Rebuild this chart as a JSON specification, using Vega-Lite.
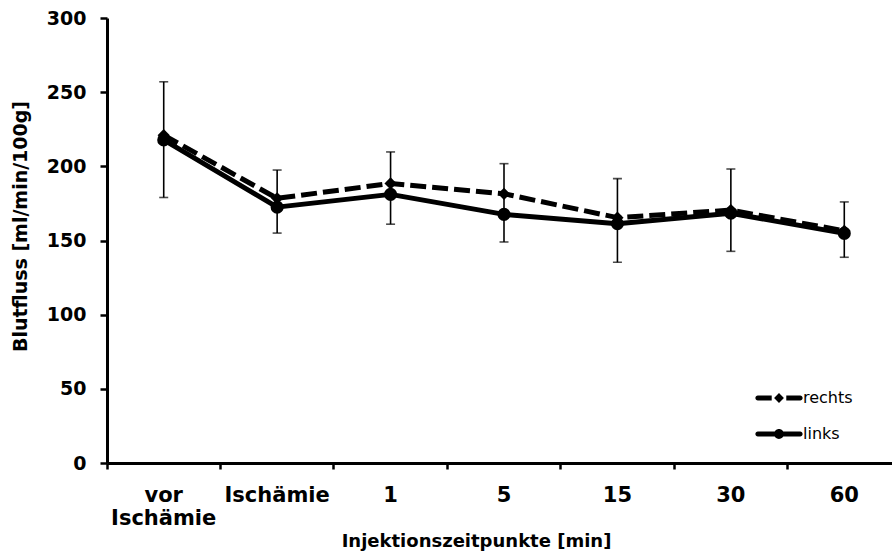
{
  "$schema": "https://vega.github.io/schema/vega-lite/v6.json",
  "autosize": {"type": "none"},
  "padding": {"left": 107, "top": 18, "right": 0, "bottom": 91},
  "width": 785,
  "height": 445,
  "background": "white",
  "datasets": {
    "mittelwerte": [
      {"zeit": "vor Ischämie", "seite": "rechts", "wert": 221.0},
      {"zeit": "Ischämie", "seite": "rechts", "wert": 178.4},
      {"zeit": "1", "seite": "rechts", "wert": 188.5},
      {"zeit": "5", "seite": "rechts", "wert": 181.5},
      {"zeit": "15", "seite": "rechts", "wert": 165.4},
      {"zeit": "30", "seite": "rechts", "wert": 170.5},
      {"zeit": "60", "seite": "rechts", "wert": 156.5},
      {"zeit": "vor Ischämie", "seite": "links", "wert": 217.8},
      {"zeit": "Ischämie", "seite": "links", "wert": 172.5},
      {"zeit": "1", "seite": "links", "wert": 181.1},
      {"zeit": "5", "seite": "links", "wert": 167.6},
      {"zeit": "15", "seite": "links", "wert": 161.3},
      {"zeit": "30", "seite": "links", "wert": 168.4},
      {"zeit": "60", "seite": "links", "wert": 154.8}
    ],
    "streuung": [
      {"zeit": "vor Ischämie", "unten": 179.0, "oben": 257.0},
      {"zeit": "Ischämie", "unten": 155.0, "oben": 197.5},
      {"zeit": "1", "unten": 161.0, "oben": 209.7},
      {"zeit": "5", "unten": 149.0, "oben": 201.8},
      {"zeit": "15", "unten": 135.3, "oben": 191.7},
      {"zeit": "30", "unten": 142.7, "oben": 198.2},
      {"zeit": "60", "unten": 138.7, "oben": 176.0}
    ]
  },
  "encoding": {
    "x": {
      "field": "zeit",
      "type": "nominal",
      "scale": {
        "type": "band",
        "domain": ["vor Ischämie", "Ischämie", "1", "5", "15", "30", "60"],
        "range": [0, 794],
        "paddingInner": 0,
        "paddingOuter": 0
      },
      "axis": {
        "title": "Injektionszeitpunkte [min]",
        "bandPosition": 0,
        "labelAngle": 0,
        "labelFontSize": 21,
        "labelLineHeight": 23,
        "labelPadding": 15,
        "labelExpr": "datum.label == 'vor Ischämie' ? ['vor', 'Ischämie'] : datum.label",
        "tickSize": 6,
        "titleFontSize": 18,
        "titleX": 369,
        "titleY": 78,
        "titleAnchor": "middle",
        "titleAlign": "center",
        "titleBaseline": "middle"
      }
    },
    "y": {
      "field": "wert",
      "type": "quantitative",
      "scale": {"domain": [0, 300]},
      "axis": {
        "title": "Blutfluss [ml/min/100g]",
        "values": [0, 50, 100, 150, 200, 250, 300],
        "tickSize": 7,
        "labelFontSize": 19,
        "labelPadding": 14,
        "titleFontSize": 19,
        "titleX": -87,
        "titleY": 208,
        "titleAngle": -90,
        "titleAlign": "center",
        "titleBaseline": "middle"
      }
    }
  },
  "layer": [
    {
      "data": {"name": "streuung"},
      "mark": {"type": "errorbar", "ticks": true, "thickness": 1.6, "size": 9, "color": "black"},
      "encoding": {
        "y": {"field": "unten", "type": "quantitative", "title": "Blutfluss [ml/min/100g]"},
        "y2": {"field": "oben"}
      }
    },
    {
      "data": {"name": "mittelwerte"},
      "transform": [{"filter": "datum.seite == 'rechts'"}],
      "mark": {"type": "line", "color": "black", "strokeWidth": 5, "strokeJoin": "round", "strokeDash": [16, 6]}
    },
    {
      "data": {"name": "mittelwerte"},
      "transform": [{"filter": "datum.seite == 'rechts'"}],
      "mark": {"type": "point", "shape": "diamond", "filled": true, "color": "black", "opacity": 1, "size": 150}
    },
    {
      "data": {"name": "mittelwerte"},
      "transform": [{"filter": "datum.seite == 'links'"}],
      "mark": {"type": "line", "color": "black", "strokeWidth": 5, "strokeJoin": "round"}
    },
    {
      "data": {"name": "mittelwerte"},
      "transform": [{"filter": "datum.seite == 'links'"}],
      "mark": {"type": "point", "shape": "circle", "filled": true, "color": "black", "opacity": 1, "size": 170}
    },
    {
      "description": "Legend key: line sample with its marker for each side; the marks themselves stay hidden",
      "data": {"name": "mittelwerte"},
      "mark": {"type": "point", "filled": true, "color": "black", "opacity": 0, "size": 552},
      "encoding": {
        "shape": {
          "field": "seite",
          "type": "nominal",
          "scale": {
            "domain": ["rechts", "links"],
            "range": [
              "M-1.8,-0.21H-0.62V0.21H-1.8A0.21,0.21 0 0 1 -1.8,-0.21ZM0.62,-0.21H1.8A0.21,0.21 0 0 1 1.8,0.21H0.62ZM0,-0.42L0.42,0L0,0.42L-0.42,0Z",
              "M-1.8,-0.21H1.8A0.21,0.21 0 0 1 1.8,0.21H-1.8A0.21,0.21 0 0 1 -1.8,-0.21ZM-0.42,0A0.42,0.42 0 1 1 0.42,0A0.42,0.42 0 1 1 -0.42,0Z"
            ]
          },
          "legend": {
            "title": null,
            "orient": "none",
            "legendX": 660,
            "legendY": 368,
            "symbolSize": 552,
            "symbolFillColor": "black",
            "symbolStrokeColor": "black",
            "symbolStrokeWidth": 0.5,
            "symbolOpacity": 1,
            "labelOffset": 12,
            "rowPadding": 16,
            "labelFont": "DejaVu Sans",
            "labelFontSize": 16,
            "labelFontWeight": "normal",
            "labelColor": "black"
          }
        }
      }
    }
  ],
  "config": {
    "view": {"stroke": null},
    "font": "DejaVu Sans",
    "axis": {
      "grid": false,
      "domainColor": "black",
      "domainWidth": 3,
      "tickColor": "black",
      "tickWidth": 2.5,
      "labelFont": "DejaVu Sans",
      "labelFontWeight": "bold",
      "labelColor": "black",
      "titleFont": "DejaVu Sans",
      "titleFontWeight": "bold",
      "titleColor": "black"
    }
  }
}
